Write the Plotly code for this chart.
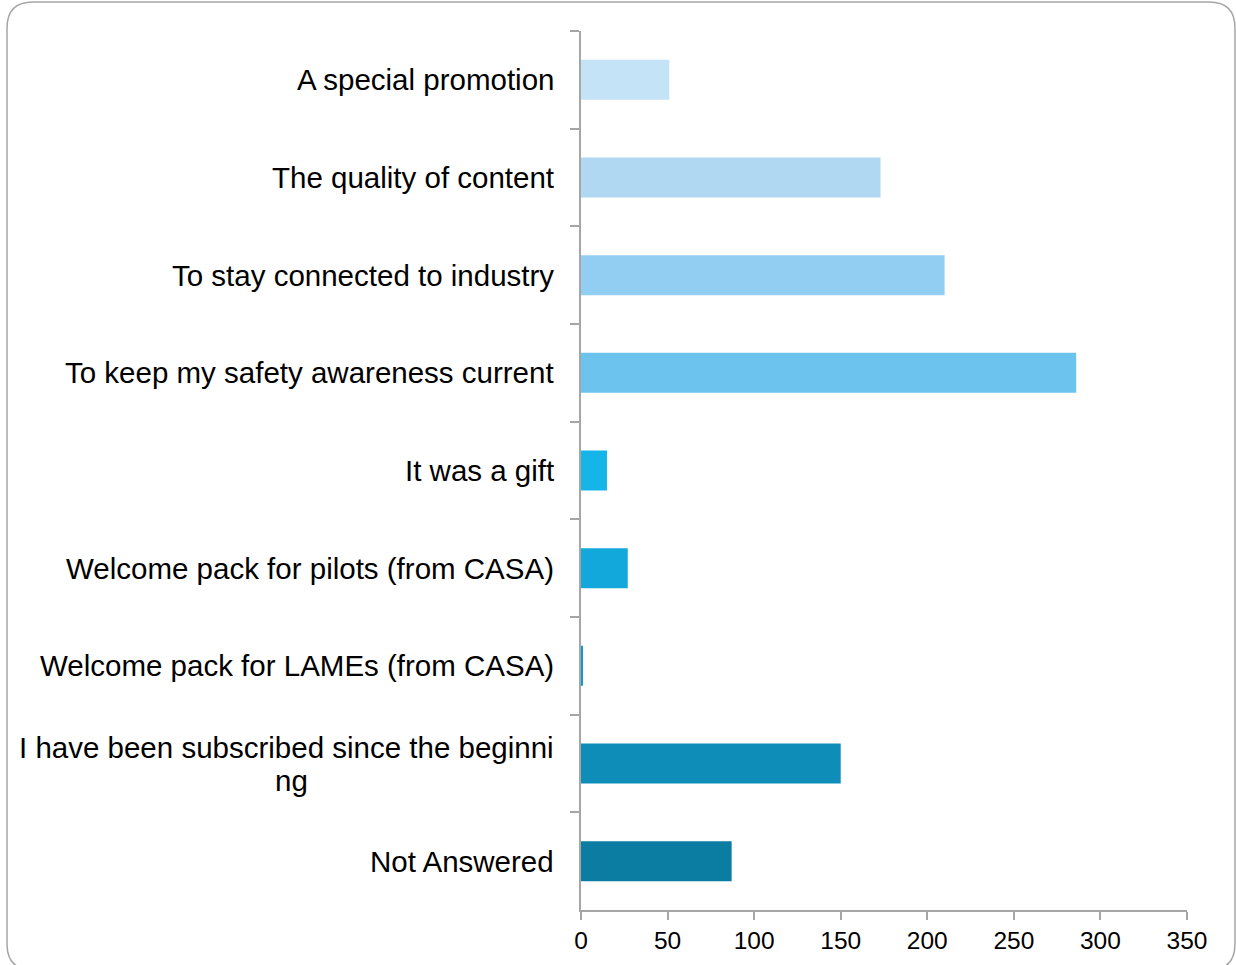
import plotly.graph_objects as go

categories = [
    "A special promotion",
    "The quality of content",
    "To stay connected to industry",
    "To keep my safety awareness current",
    "It was a gift",
    "Welcome pack for pilots (from CASA)",
    "Welcome pack for LAMEs (from CASA)",
    "I have been subscribed since the beginni<br>ng",
    "Not Answered",
]
values = [51, 173, 210, 286, 15, 27, 1, 150, 87]
bar_colors = ["#C5E3F6", "#B1D8F3", "#92CEF1", "#6CC4EE", "#15B5E9",
              "#12A8DB", "#0E9BCB", "#0F8DB9", "#0B7DA2"]
x_ticks = [0, 50, 100, 150, 200, 250, 300, 350]

W, H = 1236, 965
L, R, T, B = 581, 1187, 31, 910
pw, ph = R - L, B - T
FONT = "Liberation Sans, Arial, sans-serif"
LABEL_GAP = 25
LINE_GAP = 33
WRAP_WIDTH = 530  # approx pixel width of the wrapped first line


def px_x(px):
    return (px - L) / pw


def px_y(py):
    return (B - py) / ph


fig = go.Figure(go.Bar(
    x=values, y=categories, orientation="h",
    marker=dict(color=bar_colors, line=dict(width=0)),
    width=0.41,
))

for cat in categories:
    lines = cat.split("<br>")
    n = len(lines)
    for i, ln in enumerate(lines):
        if i == 0:
            anchor, xs = "right", -LABEL_GAP
        else:
            anchor, xs = "center", -LABEL_GAP - WRAP_WIDTH / 2
        fig.add_annotation(
            x=0, xref="paper", y=cat, yref="y",
            text=ln, showarrow=False, xanchor=anchor, yanchor="middle",
            xshift=xs, yshift=((n - 1) / 2 - i) * LINE_GAP,
            font=dict(family=FONT, size=29.5, color="#000000"),
        )

# rounded border
bl, br, bt, bb, rad = 7, 1235, 2, 970, 26
pts = [
    f"M {px_x(bl + rad)},{px_y(bt)}",
    f"L {px_x(br - rad)},{px_y(bt)}",
    f"Q {px_x(br)},{px_y(bt)} {px_x(br)},{px_y(bt + rad)}",
    f"L {px_x(br)},{px_y(bb - rad)}",
    f"Q {px_x(br)},{px_y(bb)} {px_x(br - rad)},{px_y(bb)}",
    f"L {px_x(bl + rad)},{px_y(bb)}",
    f"Q {px_x(bl)},{px_y(bb)} {px_x(bl)},{px_y(bb - rad)}",
    f"L {px_x(bl)},{px_y(bt + rad)}",
    f"Q {px_x(bl)},{px_y(bt)} {px_x(bl + rad)},{px_y(bt)}",
    "Z",
]
fig.add_shape(type="path", xref="paper", yref="paper", path=" ".join(pts),
              line=dict(color="#A6A6A6", width=1.5), layer="below")

fig.update_layout(
    width=W, height=H,
    margin=dict(l=L, r=W - R, t=T, b=H - B, pad=0),
    paper_bgcolor="white", plot_bgcolor="white",
    showlegend=False,
    font=dict(family=FONT, color="#000000"),
    xaxis=dict(
        range=[0, 350], tickvals=x_ticks, ticks="outside", ticklen=8,
        tickcolor="#A6A6A6", tickwidth=1.5, showline=True, linecolor="#A6A6A6",
        linewidth=1.5, showgrid=False, zeroline=False,
        tickfont=dict(size=24.5, color="#000000"),
    ),
    yaxis=dict(
        autorange="reversed", type="category", showticklabels=False,
        ticks="outside", ticklen=9, tickson="boundaries", tickcolor="#A6A6A6",
        tickwidth=1.5, showline=True, linecolor="#A6A6A6", linewidth=1.5,
        showgrid=False, zeroline=False,
    ),
)

fig.write_html("out.html", config={"displayModeBar": False},
               post_script="document.body.style.margin='0';")
